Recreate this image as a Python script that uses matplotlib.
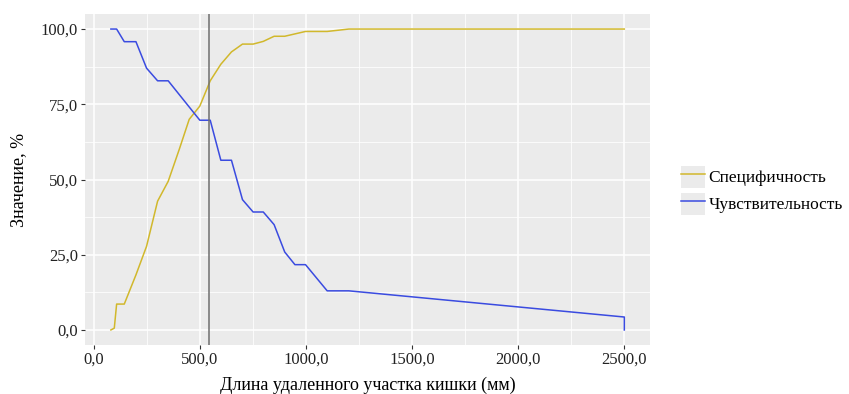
import matplotlib
matplotlib.use("Agg")
import matplotlib.pyplot as plt
from matplotlib.ticker import FuncFormatter, MultipleLocator
from matplotlib.patches import Patch
from matplotlib.legend_handler import HandlerTuple

plt.rcParams['font.family'] = ['Liberation Serif', 'DejaVu Serif']

# ── Data ─────────────────────────────────────────────────────────────────
spec_x = [81, 97, 108, 144, 199, 249, 301, 351, 403, 450, 500, 549, 599, 649,
          701, 751, 799, 850, 900, 998, 1100, 1202, 2500]
spec_y = [0.0, 0.6, 8.6, 8.6, 18.3, 27.8, 42.8, 49.4, 60.0, 70.0, 74.4, 82.8,
          88.3, 92.4, 95.0, 95.0, 95.9, 97.6, 97.6, 99.2, 99.2, 100.0, 100.0]

sens_x = [81, 108, 144, 199, 249, 301, 351, 500, 549, 599, 649, 701, 751, 799,
          850, 900, 948, 998, 1100, 1202, 2500, 2500]
sens_y = [100.0, 100.0, 95.8, 95.8, 87.0, 82.8, 82.8, 69.7, 69.7, 56.4, 56.4,
          43.3, 39.2, 39.2, 35.0, 25.9, 21.7, 21.7, 13.0, 13.0, 4.3, 0.0]

cutoff = 545
labels = ["Специфичность", "Чувствительность"]

YELLOW = "#D1B82C"
BLUE = "#3A4BE0"
PANEL = "#EBEBEB"

fig = plt.figure(figsize=(8.49, 3.94), dpi=100)
ax = fig.add_axes([85 / 849, 1 - 345 / 394, 565 / 849, 331 / 394])
ax.set_facecolor(PANEL)
for s in ax.spines.values():
    s.set_visible(False)

l1, = ax.plot(spec_x, spec_y, color=YELLOW, lw=1.1, zorder=3)
l2, = ax.plot(sens_x, sens_y, color=BLUE, lw=1.1, zorder=3)
ax.axvline(cutoff, color="#6E6E6E", lw=1.1, zorder=4)

ax.set_xlim(-41, 2621)
ax.set_ylim(-5, 105)
ax.xaxis.set_major_locator(MultipleLocator(500))
ax.xaxis.set_minor_locator(MultipleLocator(250))
ax.yaxis.set_major_locator(MultipleLocator(25))
ax.yaxis.set_minor_locator(MultipleLocator(12.5))
ax.grid(which='major', color='white', lw=1.1)
ax.grid(which='minor', color='white', lw=0.55)
ax.set_axisbelow(True)

fmt = FuncFormatter(lambda v, p: f"{v:.1f}".replace(".", ","))
ax.xaxis.set_major_formatter(fmt)
ax.yaxis.set_major_formatter(fmt)
ax.tick_params(which='major', length=3, color='#333333', labelsize=12,
               labelcolor='#222222', pad=2)
ax.tick_params(which='minor', length=0)

ax.set_xlabel("Длина удаленного участка кишки (мм)", fontsize=13, color='black', labelpad=6)
ax.set_ylabel("Значение, %", fontsize=13, color='black', labelpad=10)

key = lambda: Patch(facecolor=PANEL, edgecolor='none')
handles = [(key(), l1), (key(), l2)]
leg = ax.legend(handles, labels, handler_map={tuple: HandlerTuple(ndivide=1, pad=0)},
                loc='center left', bbox_to_anchor=(1.042, 0.468), frameon=False,
                fontsize=12.5, handlelength=1.38, handleheight=1.57,
                handletextpad=0.23, labelspacing=0.29, borderaxespad=0)

fig.savefig("out.png", dpi=100)
